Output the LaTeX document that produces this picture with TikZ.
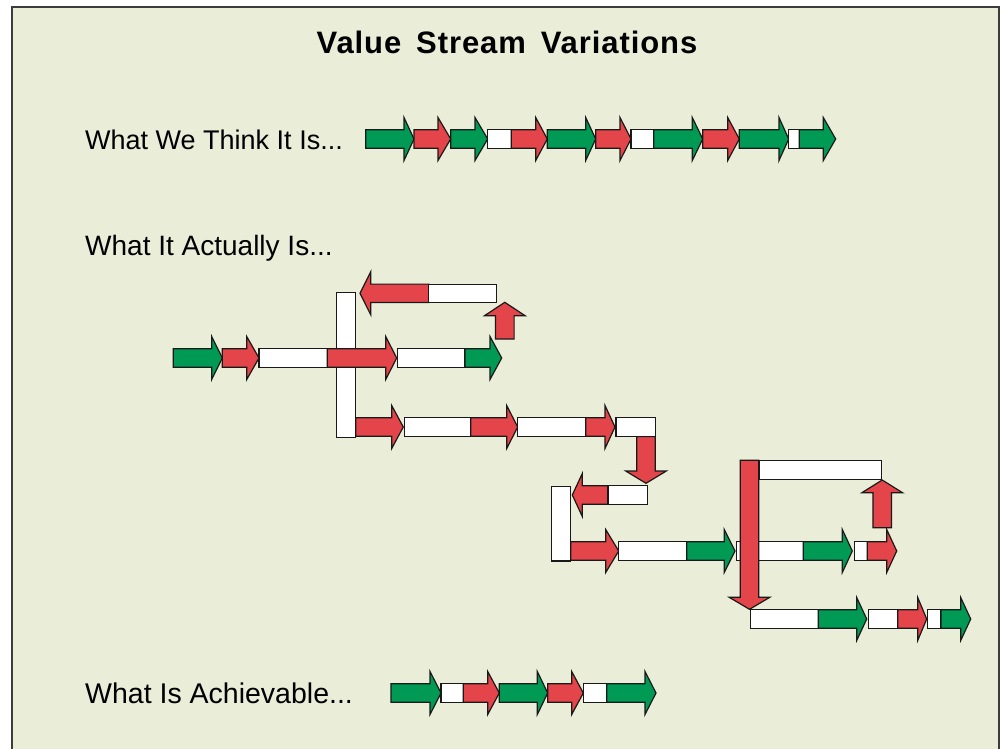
\documentclass[tikz,border=0pt]{standalone}
\usepackage{fontspec}
\setmainfont{Liberation Sans}
\definecolor{vsgreen}{RGB}{0,154,84}
\definecolor{vsred}{RGB}{228,69,74}
\definecolor{vsbg}{RGB}{234,237,216}
\definecolor{vsline}{RGB}{25,25,25}
\tikzset{
  vsbase/.style={draw=vsline,line width=1.2pt,line join=miter},
  vsg/.style={vsbase,fill=vsgreen},
  vsr/.style={vsbase,fill=vsred},
  vsw/.style={vsbase,fill=white},
  vslbl/.style={anchor=base west,inner sep=0pt}
}
% horizontal arrow: start x, head base x, tip x, centre y, style
\newcommand{\vsHA}[5]{\path[#5] (#1,{#4-9.2}) -- (#2,{#4-9.2}) -- (#2,{#4-21.5}) -- (#3,#4) -- (#2,{#4+21.5}) -- (#2,{#4+9.2}) -- (#1,{#4+9.2}) -- cycle;}
% vertical arrow: centre x, start y, head base y, tip y, style
\newcommand{\vsVA}[5]{\path[#5] ({#1-9.3},#2) -- ({#1-9.3},#3) -- ({#1-20.3},#3) -- (#1,#4) -- ({#1+20.3},#3) -- ({#1+9.3},#3) -- ({#1+9.3},#2) -- cycle;}
% white box: x0, x1, centre y
\newcommand{\vsBX}[3]{\path[vsw] (#1,{#3-9.2}) rectangle (#2,{#3+9.2});}
\begin{document}
\begin{tikzpicture}[x=1pt,y=-1pt]
\useasboundingbox (0,0) rectangle (1002,749);
\path[fill=white] (0,0) rectangle (1002,749);
\path[fill=vsbg,draw=vsline!85,line width=1.5pt] (12,7) rectangle (999,770);

\node[anchor=base,inner sep=0pt,font=\bfseries\fontsize{31}{36}\selectfont\addfontfeature{LetterSpace=3}] (title) at (507,54) {Value\hskip0.48em Stream\hskip0.48em Variations};
\node[vslbl,font=\fontsize{27}{32}\selectfont] (think) at (85,150) {What We Think It Is...};
\node[vslbl,font=\fontsize{28}{32}\selectfont] (actual) at (85,255) {What It Actually Is...};
\node[vslbl,font=\fontsize{28.5}{32}\selectfont] (achieve) at (85,703) {What Is Achievable...};

% Row 1: what we think
\vsHA{365.7}{404}{414}{139}{vsg}
\vsHA{414}{438}{450.7}{139}{vsr}
\vsHA{450.7}{475}{487.7}{139}{vsg}
\vsBX{487.7}{511.3}{139}
\vsHA{511.3}{535.7}{547.3}{139}{vsr}
\vsHA{547.3}{585.7}{595.7}{139}{vsg}
\vsHA{595.7}{620}{631}{139}{vsr}
\vsBX{631}{653.7}{139}
\vsHA{653.7}{692.3}{702.7}{139}{vsg}
\vsHA{702.7}{727.7}{739.3}{139}{vsr}
\vsHA{739.3}{779}{788.7}{139}{vsg}
\vsBX{788.7}{799.3}{139}
\vsHA{799.3}{823.3}{835.7}{139}{vsg}

% Row 2: what it actually is
\vsHA{173.3}{211.7}{222.3}{358}{vsg}
\vsHA{222.3}{246.7}{259}{358}{vsr}
\vsBX{259}{327.3}{358}
\path[vsw] (336.7,292.7) rectangle (355.7,437.3);
\vsHA{327.3}{385.7}{396.7}{358}{vsr}
\vsBX{397.3}{465}{358}
\vsHA{465}{490}{501.7}{358}{vsg}
\vsHA{428.7}{370.7}{360}{293.3}{vsr}
\vsBX{428.7}{496.7}{293.3}
\vsVA{504.8}{339}{315.7}{302.3}{vsr}

\vsHA{355.7}{391.7}{403.3}{427}{vsr}
\vsBX{404.3}{470.7}{427}
\vsHA{470.7}{506.7}{517.7}{427}{vsr}
\vsBX{517.7}{585.7}{427}
\vsHA{585.7}{605}{615}{427}{vsr}
\vsBX{616}{655.3}{427}
\vsVA{646}{436.6}{471}{483.3}{vsr}

\vsHA{608}{582.3}{572.3}{495}{vsr}
\vsBX{608}{647.3}{495}
\path[vsw] (551.7,486.7) rectangle (570.7,561);

\vsHA{570.7}{605.7}{618.7}{551}{vsr}
\vsBX{618.7}{686.7}{551}
\vsHA{686.7}{724.3}{735}{551}{vsg}
\vsBX{736.3}{803.3}{551}
\vsHA{803.3}{842.3}{852.3}{551}{vsg}
\vsBX{854.3}{867.3}{551}
\vsHA{867.3}{886.7}{896.7}{551}{vsr}
\path[vsw] (759,460.3) rectangle (881.3,479.3);
\vsVA{882.2}{527.7}{492.7}{480}{vsr}
\vsVA{749.5}{460.3}{597.3}{609.3}{vsr}

\vsBX{750.7}{818.3}{619}
\vsHA{818.3}{856.7}{866.7}{619}{vsg}
\vsBX{868.3}{897.7}{619}
\vsHA{897.7}{917.7}{926.7}{619}{vsr}
\vsBX{927.7}{941}{619}
\vsHA{941}{960.7}{970.7}{619}{vsg}

% Row 3: what is achievable
\vsHA{391}{430}{441}{693}{vsg}
\vsBX{441}{463.3}{693}
\vsHA{463.3}{487.7}{499.3}{693}{vsr}
\vsHA{499.3}{537.3}{547.7}{693}{vsg}
\vsHA{547.7}{571.7}{583.3}{693}{vsr}
\vsBX{583.3}{606.7}{693}
\vsHA{606.7}{645}{656}{693}{vsg}
\end{tikzpicture}
\end{document}
